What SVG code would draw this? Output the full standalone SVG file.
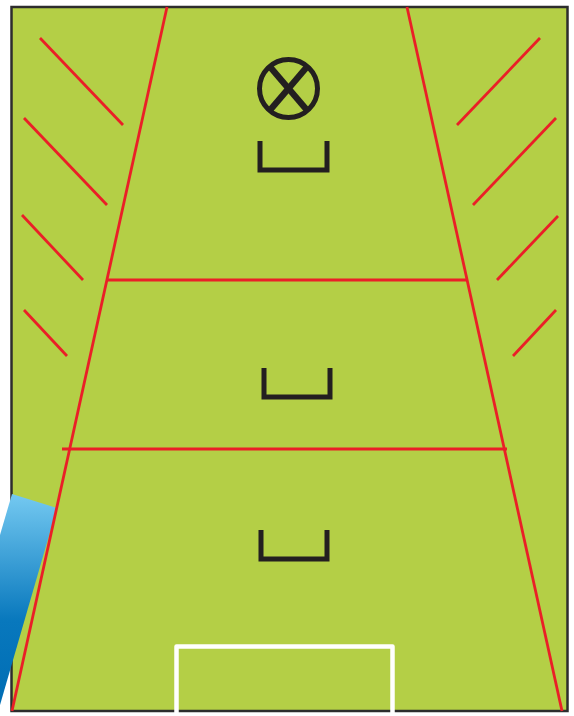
<svg xmlns="http://www.w3.org/2000/svg" width="574" height="716" viewBox="0 0 574 716">
<defs>
<linearGradient id="blueGrad" x1="0" y1="0" x2="0" y2="1">
<stop offset="0" stop-color="#74c9f1"/>
<stop offset="0.6" stop-color="#0878bd"/>
<stop offset="1" stop-color="#006db4"/>
</linearGradient>
<style>
.red{stroke:#ea1f27;stroke-width:2.8;fill:none;stroke-linecap:butt}
.dark{stroke:#231f20;fill:none}
</style>
</defs>
<rect width="574" height="716" fill="#ffffff"/>
<g id="field">
<rect x="11.5" y="7" width="556" height="704" fill="#b4cf46" stroke="#2d2d2d" stroke-width="2.5"/>
</g>
<g id="blue-band">
<polygon points="12,494 57,508 0,705 0,535" fill="url(#blueGrad)"/>
</g>
<g id="lines">
<line class="red" x1="167" y1="7" x2="12" y2="711"/>
<line class="red" x1="407" y1="7" x2="562" y2="711"/>
<line class="red" x1="107" y1="280" x2="467" y2="280"/>
<line class="red" x1="62" y1="449" x2="507" y2="449"/>
<line class="red" x1="40" y1="38" x2="123" y2="125"/>
<line class="red" x1="24" y1="118" x2="107" y2="205"/>
<line class="red" x1="22" y1="215" x2="83" y2="280"/>
<line class="red" x1="24" y1="310" x2="67" y2="356"/>
<line class="red" x1="540" y1="38" x2="457" y2="125"/>
<line class="red" x1="556" y1="118" x2="473" y2="205"/>
<line class="red" x1="558" y1="216" x2="497" y2="280"/>
<line class="red" x1="556" y1="310" x2="513" y2="356"/>
</g>
<g id="target">
<circle class="dark" cx="288.5" cy="88.5" r="29" stroke-width="5"/>
<line class="dark" x1="271" y1="68" x2="306" y2="109" stroke-width="6.5"/>
<line class="dark" x1="306" y1="68" x2="271" y2="109" stroke-width="6.5"/>
</g>
<g id="goal-1">
<path class="dark" d="M260,141 V170 H327 V141" stroke-width="5"/>
</g>
<g id="goal-2">
<path class="dark" d="M264,368 V397 H330 V368" stroke-width="5"/>
</g>
<g id="goal-3">
<path class="dark" d="M261,530 V559 H327 V530" stroke-width="5"/>
</g>
<g id="goal-area">
<path d="M176.5,716 V646.5 H392.5 V716" fill="none" stroke="#ffffff" stroke-width="4.5" stroke-linejoin="round"/>
</g>
</svg>
